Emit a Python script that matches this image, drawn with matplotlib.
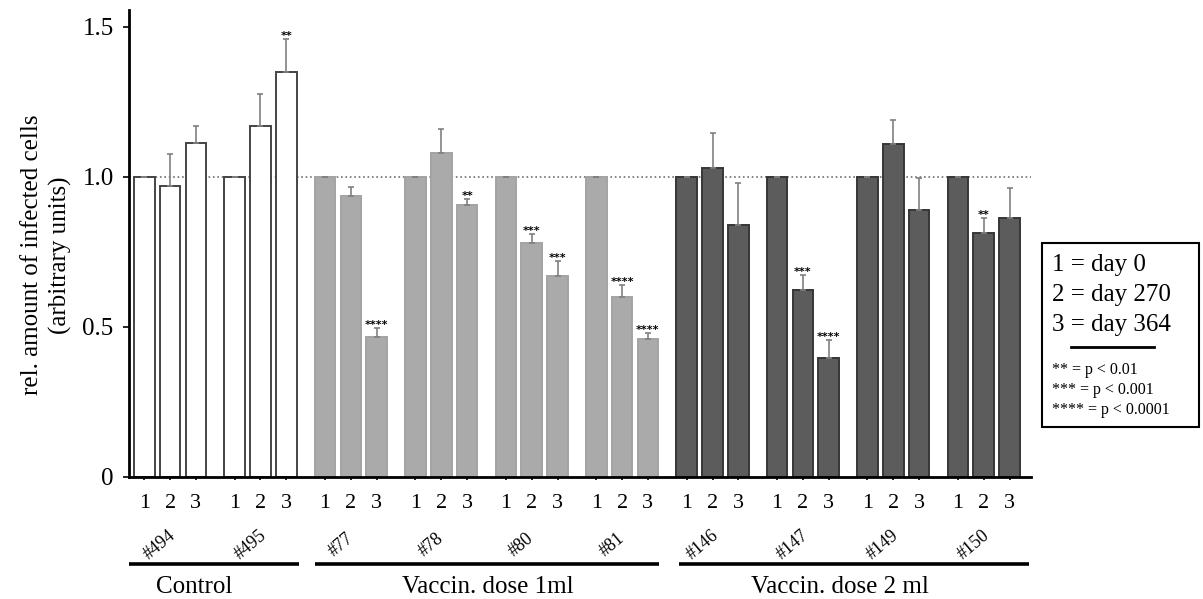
import numpy as np
import matplotlib
matplotlib.use("Agg")
import matplotlib.pyplot as plt
from matplotlib.patches import Rectangle
import matplotlib.transforms as mtransforms

plt.rcParams['font.family'] = ['Liberation Serif', 'DejaVu Serif']

# data
animals = ["#494", "#495", "#77", "#78", "#80", "#81", "#146", "#147", "#149", "#150"]
days = ["1", "2", "3"]
means = [
    [1.0, 0.969, 1.113],
    [1.0, 1.167, 1.347],
    [1.0, 0.935, 0.467],
    [1.0, 1.080, 0.906],
    [1.0, 0.778, 0.669],
    [1.0, 0.600, 0.458],
    [1.0, 1.029, 0.840],
    [1.0, 0.622, 0.397],
    [1.0, 1.108, 0.887],
    [1.0, 0.811, 0.861],
]
errors = [
    [0, 0.107, 0.056],
    [0, 0.109, 0.111],
    [0, 0.030, 0.028],
    [0, 0.078, 0.020],
    [0, 0.029, 0.049],
    [0, 0.039, 0.020],
    [0, 0.116, 0.140],
    [0, 0.051, 0.057],
    [0, 0.081, 0.109],
    [0, 0.050, 0.102],
]
stars = [
    ["", "", ""],
    ["", "", "**"],
    ["", "", "****"],
    ["", "", "**"],
    ["", "***", "***"],
    ["", "****", "****"],
    ["", "", ""],
    ["", "***", "****"],
    ["", "", ""],
    ["", "**", ""],
]
dose_group = [0, 0, 1, 1, 1, 1, 2, 2, 2, 2]
dose_names = ["Control", "Vaccin. dose 1ml", "Vaccin. dose 2 ml"]
dose_spans = [(-0.59, 5.99), (6.62, 19.94), (20.70, 34.25)]
dose_text_x = [1.95, 13.3, 26.93]

face = ["white", "#aaaaaa", "#5c5c5c"]
edge = ["#444444", "#a3a3a3", "#363636"]

fig = plt.figure(figsize=(12.03, 5.99), dpi=100)
ax = fig.add_axes([129 / 1203, 1 - 476.7 / 599, (1031 - 129) / 1203, (476.7 - 10) / 599])

G = 3.5
xs_all = []
for g, name in enumerate(animals):
    x = g * G + np.arange(3)
    xs_all.extend(x)
    d = dose_group[g]
    ax.bar(x, means[g], width=0.8, color=face[d], edgecolor=edge[d],
           linewidth=1.4, zorder=2)
    err = np.array(errors[g])
    ax.errorbar(x, means[g], yerr=[np.zeros(3), err], fmt='none',
                ecolor='#808080', elinewidth=1.2, capsize=2, capthick=1.2, zorder=3)
    for i in range(3):
        if stars[g][i]:
            ax.text(x[i], means[g][i] + err[i], stars[g][i], ha='center', va='baseline',
                    fontsize=8, fontweight='bold', family='DejaVu Sans', zorder=4)

ax.axhline(1.0, color='#707070', linestyle=':', linewidth=1.2, zorder=1)

ax.set_xlim(-0.59, 34.33)
ax.set_ylim(0, 1.555)
ax.set_yticks([0, 0.5, 1.0, 1.5])
ax.set_yticklabels(["0", "0.5", "1.0", "1.5"], fontsize=18)
ax.set_xticks(xs_all)
ax.set_xticklabels(days * len(animals), fontsize=16)
ax.tick_params(axis='y', direction='out', length=4, width=1.2, pad=7)
ax.tick_params(axis='x', direction='out', length=2.5, width=1.2, pad=10)
for s in ['top', 'right']:
    ax.spines[s].set_visible(False)
for s in ['left', 'bottom']:
    ax.spines[s].set_linewidth(2)

ax.set_ylabel("rel. amount of infected cells\n(arbitrary units)", fontsize=18,
              linespacing=1.35)
ax.yaxis.set_label_coords(-0.063, 0.475)

trans = mtransforms.blended_transform_factory(ax.transData, ax.transAxes)
for g, name in enumerate(animals):
    ax.text(g * G + 0.6, -0.147, name, transform=trans, rotation=40,
            ha='center', va='center', fontsize=13, clip_on=False)

for d, name in enumerate(dose_names):
    x0, x1 = dose_spans[d]
    ax.plot([x0, x1], [-0.187, -0.187], transform=trans, color='black',
            linewidth=2.6, clip_on=False, solid_capstyle='butt')
    ax.text(dose_text_x[d], -0.236, name, transform=trans, ha='center',
            va='center', fontsize=18, clip_on=False)

# legend box
W, H = 1203, 599
fig.add_artist(Rectangle((1042 / W, 1 - 427 / H), (1199 - 1042) / W, (427 - 243) / H,
                         transform=fig.transFigure, facecolor='white',
                         edgecolor='black', linewidth=1.5))
for txt, y in [("1 = day 0", 265), ("2 = day 270", 295), ("3 = day 364", 325)]:
    fig.text(1052 / W, 1 - y / H, txt, ha='left', va='center', fontsize=18)
fig.add_artist(plt.Line2D([1071 / W, 1154 / W], [1 - 347 / H, 1 - 347 / H],
                          transform=fig.transFigure, color='black', linewidth=2))
for txt, y in [("** = p < 0.01", 370), ("*** = p < 0.001", 390), ("**** = p < 0.0001", 410)]:
    fig.text(1052 / W, 1 - y / H, txt, ha='left', va='center', fontsize=11.5)

fig.savefig("out.png", dpi=100)
